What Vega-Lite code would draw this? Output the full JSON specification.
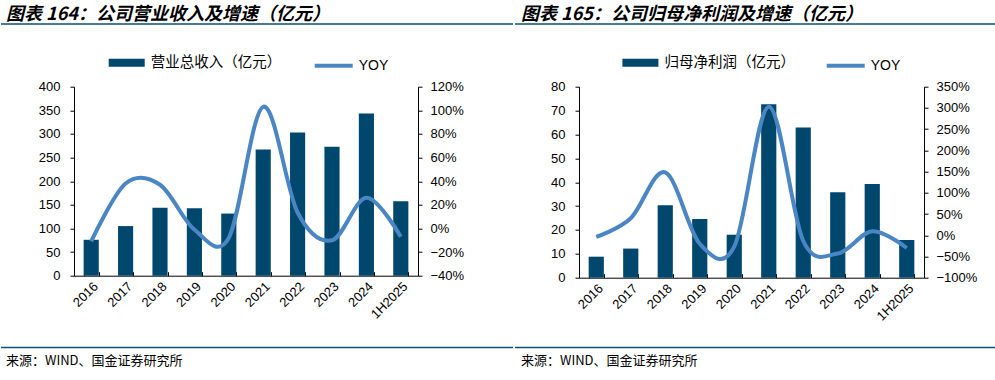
{
  "$schema": "https://vega.github.io/schema/vega-lite/v6.json",
  "padding": {"top": 6, "left": 0, "right": 0, "bottom": 0},
  "background": "white",
  "datasets": {
    "rev": [
      {"period": "2016", "value": 76, "yoy": -0.11},
      {"period": "2017", "value": 105, "yoy": 0.38},
      {"period": "2018", "value": 144, "yoy": 0.37},
      {"period": "2019", "value": 143, "yoy": -0.01},
      {"period": "2020", "value": 131.5, "yoy": -0.08},
      {"period": "2021", "value": 267, "yoy": 1.03},
      {"period": "2022", "value": 303, "yoy": 0.135},
      {"period": "2023", "value": 273, "yoy": -0.10},
      {"period": "2024", "value": 343.5, "yoy": 0.26},
      {"period": "1H2025", "value": 157.5, "yoy": -0.07}
    ],
    "np": [
      {"period": "2016", "value": 8.8, "yoy": -0.04},
      {"period": "2017", "value": 12.2, "yoy": 0.40},
      {"period": "2018", "value": 30.3, "yoy": 1.48},
      {"period": "2019", "value": 24.6, "yoy": -0.20},
      {"period": "2020", "value": 18.0, "yoy": -0.27},
      {"period": "2021", "value": 72.7, "yoy": 3.03},
      {"period": "2022", "value": 62.9, "yoy": -0.135},
      {"period": "2023", "value": 35.8, "yoy": -0.43},
      {"period": "2024", "value": 39.2, "yoy": 0.095},
      {"period": "1H2025", "value": 15.8, "yoy": -0.30}
    ],
    "blank": [{"k": "a"}]
  },
  "columns": 2,
  "align": "none",
  "spacing": {"row": 19.7, "column": 0},
  "concat": [
    {
      "width": 439, "height": 1,
      "data": {"name": "blank"},
      "title": {"text": "图表 164：公司营业收入及增速（亿元）", "anchor": "start", "dx": -68, "offset": -1},
      "mark": {"type": "rule", "color": "#0b4f71", "strokeWidth": 1.5},
      "encoding": {
        "x": {"datum": 0, "type": "quantitative", "scale": {"domain": [0, 1], "range": [-73, 439]}, "axis": null},
        "x2": {"datum": 1},
        "y": {"datum": 0, "type": "quantitative", "scale": {"domain": [0, 1]}, "axis": null}
      }
    },
    {
      "width": 418, "height": 1,
      "data": {"name": "blank"},
      "title": {"text": "图表 165：公司归母净利润及增速（亿元）", "anchor": "start", "dx": -59, "offset": -1},
      "mark": {"type": "rule", "color": "#0b4f71", "strokeWidth": 1.5},
      "encoding": {
        "x": {"datum": 0, "type": "quantitative", "scale": {"domain": [0, 1], "range": [-65, 418]}, "axis": null},
        "x2": {"datum": 1},
        "y": {"datum": 0, "type": "quantitative", "scale": {"domain": [0, 1]}, "axis": null}
      }
    },
    {
      "width": 344, "height": 189,
      "data": {"name": "rev"},
      "encoding": {
        "x": {"field": "period", "type": "nominal", "sort": null,
              "scale": {"paddingInner": 0.56, "paddingOuter": 0.28},
              "axis": {"title": null, "labelAngle": -45, "tickBand": "extent", "tickSize": -4, "labelPadding": 8, "minExtent": 51, "maxExtent": 51}}
      },
      "layer": [
        {
          "mark": {"type": "bar"},
          "encoding": {
            "y": {"field": "value", "type": "quantitative",
                  "scale": {"domain": [0, 400], "nice": false},
                  "axis": {"orient": "left", "title": null, "values": [0, 50, 100, 150, 200, 250, 300, 350, 400], "labelPadding": 10, "minExtent": 73, "maxExtent": 73}},
            "color": {"datum": "营业总收入（亿元）", "type": "nominal",
                      "scale": {"domain": ["营业总收入（亿元）"], "range": ["#00476e"]},
                      "legend": {"orient": "none", "legendX": 34.7, "legendY": -42, "title": null, "padding": 0,
                                 "symbolType": "M-1,-0.22H1V0.22H-1Z", "symbolSize": 1296, "symbolStrokeWidth": 0,
                                 "labelFont": "Noto Sans CJK SC", "labelFontSize": 14.5, "labelOffset": 6}}
          }
        },
        {
          "mark": {"type": "line", "interpolate": "cardinal", "strokeWidth": 4},
          "encoding": {
            "y": {"field": "yoy", "type": "quantitative",
                  "scale": {"domain": [-0.4, 1.2], "nice": false},
                  "axis": {"orient": "right", "title": null, "format": ".0%", "values": [-0.4, -0.2, 0, 0.2, 0.4, 0.6, 0.8, 1.0, 1.2], "labelPadding": 8, "minExtent": 95, "maxExtent": 95}},
            "stroke": {"datum": "YOY", "type": "nominal",
                       "scale": {"domain": ["YOY"], "range": ["#4a86c4"]},
                       "legend": {"orient": "none", "legendX": 238.7, "legendY": -42, "title": null, "padding": 0,
                                  "symbolType": "M-1,0H1", "symbolSize": 1444, "symbolStrokeWidth": 4,
                                  "labelFont": "Liberation Sans", "labelFontSize": 14, "labelOffset": 4}}
          }
        }
      ],
      "resolve": {"scale": {"y": "independent"}}
    },
    {
      "width": 345, "height": 191,
      "data": {"name": "np"},
      "encoding": {
        "x": {"field": "period", "type": "nominal", "sort": null,
              "scale": {"paddingInner": 0.56, "paddingOuter": 0.28},
              "axis": {"title": null, "labelAngle": -45, "tickBand": "extent", "tickSize": -4, "labelPadding": 8, "minExtent": 49, "maxExtent": 49}}
      },
      "layer": [
        {
          "mark": {"type": "bar"},
          "encoding": {
            "y": {"field": "value", "type": "quantitative",
                  "scale": {"domain": [0, 80], "nice": false},
                  "axis": {"orient": "left", "title": null, "values": [0, 10, 20, 30, 40, 50, 60, 70, 80], "labelPadding": 10, "minExtent": 65, "maxExtent": 65}},
            "color": {"datum": "归母净利润（亿元）", "type": "nominal",
                      "scale": {"domain": ["归母净利润（亿元）"], "range": ["#00476e"]},
                      "legend": {"orient": "none", "legendX": 43.4, "legendY": -42, "title": null, "padding": 0,
                                 "symbolType": "M-1,-0.22H1V0.22H-1Z", "symbolSize": 1296, "symbolStrokeWidth": 0,
                                 "labelFont": "Noto Sans CJK SC", "labelFontSize": 14.5, "labelOffset": 6}}
          }
        },
        {
          "mark": {"type": "line", "interpolate": "cardinal", "strokeWidth": 4},
          "encoding": {
            "y": {"field": "yoy", "type": "quantitative",
                  "scale": {"domain": [-1, 3.5], "nice": false},
                  "axis": {"orient": "right", "title": null, "format": ".0%", "values": [-1, -0.5, 0, 0.5, 1, 1.5, 2, 2.5, 3, 3.5], "labelPadding": 8, "minExtent": 73, "maxExtent": 73}},
            "stroke": {"datum": "YOY", "type": "nominal",
                       "scale": {"domain": ["YOY"], "range": ["#4a86c4"]},
                       "legend": {"orient": "none", "legendX": 245.7, "legendY": -42, "title": null, "padding": 0,
                                  "symbolType": "M-1,0H1", "symbolSize": 1444, "symbolStrokeWidth": 4,
                                  "labelFont": "Liberation Sans", "labelFontSize": 14, "labelOffset": 4}}
          }
        }
      ],
      "resolve": {"scale": {"y": "independent"}}
    },
    {
      "width": 439, "height": 1,
      "data": {"name": "blank"},
      "title": {"text": "来源：WIND、国金证券研究所", "orient": "bottom", "anchor": "start", "dx": -68, "offset": 7, "fontSize": 13, "fontWeight": "normal", "fontStyle": "normal"},
      "mark": {"type": "rule", "color": "#0b4f71", "strokeWidth": 1.5},
      "encoding": {
        "x": {"datum": 0, "type": "quantitative", "scale": {"domain": [0, 1], "range": [-73, 439]}, "axis": null},
        "x2": {"datum": 1},
        "y": {"datum": 1, "type": "quantitative", "scale": {"domain": [0, 1]}, "axis": null}
      }
    },
    {
      "width": 418, "height": 1,
      "data": {"name": "blank"},
      "title": {"text": "来源：WIND、国金证券研究所", "orient": "bottom", "anchor": "start", "dx": -59, "offset": 7, "fontSize": 13, "fontWeight": "normal", "fontStyle": "normal"},
      "mark": {"type": "rule", "color": "#0b4f71", "strokeWidth": 1.5},
      "encoding": {
        "x": {"datum": 0, "type": "quantitative", "scale": {"domain": [0, 1], "range": [-65, 418]}, "axis": null},
        "x2": {"datum": 1},
        "y": {"datum": 1, "type": "quantitative", "scale": {"domain": [0, 1]}, "axis": null}
      }
    }
  ],
  "resolve": {"scale": {"color": "independent", "stroke": "independent"}, "legend": {"color": "independent", "stroke": "independent"}},
  "config": {
    "view": {"stroke": null},
    "font": "Liberation Sans",
    "title": {"font": "Noto Sans CJK SC", "fontSize": 18, "fontWeight": "bold", "fontStyle": "italic", "color": "#000000", "frame": "group"},
    "axis": {"grid": false, "domainColor": "#000000", "tickColor": "#000000", "labelColor": "#000000", "labelFont": "Liberation Sans", "labelFontSize": 13, "tickSize": 4, "domainWidth": 1, "tickWidth": 1},
    "legend": {"labelColor": "#000000"}
  }
}
